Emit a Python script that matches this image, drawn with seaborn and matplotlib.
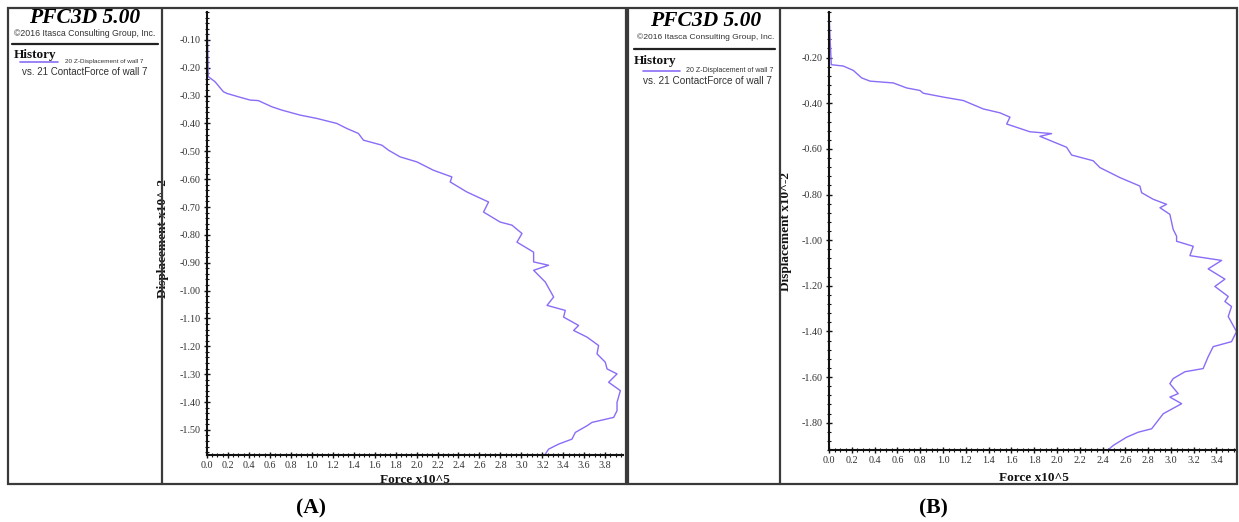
import numpy as np
import pandas as pd
import matplotlib
matplotlib.use("Agg")
import matplotlib.pyplot as plt
import seaborn as sns
from matplotlib.lines import Line2D
from matplotlib.patches import Rectangle
from matplotlib.ticker import MultipleLocator, FormatStrFormatter, FixedLocator

# ---------------- data ----------------
force_a = [0.0, 0.012, 0.076, 0.156, 0.188, 0.315, 0.411, 0.490, 0.618, 0.713, 0.888,
           1.048, 1.239, 1.334, 1.445, 1.493, 1.669, 1.732, 1.843, 2.003, 2.161, 2.337,
           2.321, 2.480, 2.687, 2.639, 2.798, 2.910, 3.006, 2.958, 3.117, 3.117, 3.260,
           3.117, 3.228, 3.308, 3.245, 3.419, 3.403, 3.546, 3.499, 3.627, 3.737, 3.722,
           3.801, 3.818, 3.913, 3.833, 3.945, 3.913, 3.913, 3.881, 3.674, 3.627, 3.515,
           3.483, 3.355, 3.260, 3.228]
disp_a = [-0.005, -0.232, -0.250, -0.286, -0.292, -0.306, -0.316, -0.318, -0.340, -0.352,
          -0.370, -0.382, -0.400, -0.418, -0.436, -0.460, -0.478, -0.496, -0.520, -0.538,
          -0.568, -0.592, -0.610, -0.646, -0.682, -0.718, -0.754, -0.765, -0.795, -0.826,
          -0.862, -0.897, -0.909, -0.927, -0.969, -1.023, -1.053, -1.071, -1.095, -1.125,
          -1.143, -1.167, -1.197, -1.227, -1.257, -1.281, -1.299, -1.329, -1.359, -1.401,
          -1.431, -1.455, -1.473, -1.485, -1.509, -1.533, -1.551, -1.569, -1.587]

force_b = [0.0, 0.02, 0.126, 0.213, 0.287, 0.360, 0.564, 0.682, 0.798, 0.827, 1.003,
           1.178, 1.354, 1.500, 1.588, 1.559, 1.763, 1.953, 1.851, 2.085, 2.129, 2.318,
           2.377, 2.553, 2.728, 2.743, 2.845, 2.962, 2.904, 2.991, 3.020, 3.050, 3.050,
           3.196, 3.167, 3.445, 3.327, 3.474, 3.386, 3.503, 3.474, 3.532, 3.503, 3.576,
           3.532, 3.371, 3.327, 3.283, 3.123, 3.020, 2.991, 3.064, 2.991, 3.094, 2.933,
           2.831, 2.713, 2.611, 2.494, 2.450]
disp_b = [-0.005, -0.231, -0.237, -0.256, -0.289, -0.303, -0.311, -0.333, -0.344, -0.356,
          -0.373, -0.388, -0.425, -0.442, -0.461, -0.491, -0.525, -0.533, -0.545, -0.593,
          -0.627, -0.652, -0.682, -0.726, -0.763, -0.792, -0.821, -0.843, -0.858, -0.887,
          -0.953, -0.983, -1.005, -1.027, -1.068, -1.089, -1.126, -1.171, -1.203, -1.247,
          -1.269, -1.291, -1.335, -1.401, -1.445, -1.467, -1.511, -1.563, -1.577, -1.607,
          -1.629, -1.673, -1.688, -1.717, -1.761, -1.827, -1.842, -1.864, -1.900, -1.919]

yticks_a = [-0.10, -0.20, -0.30, -0.40, -0.50, -0.60, -0.70, -0.80, -0.90, -1.00,
            -1.10, -1.20, -1.30, -1.40, -1.50]
yticks_b = [-0.20, -0.40, -0.60, -0.80, -1.00, -1.20, -1.40, -1.60, -1.80]
xticks_a = [0.0, 0.2, 0.4, 0.6, 0.8, 1.0, 1.2, 1.4, 1.6, 1.8, 2.0, 2.2, 2.4, 2.6, 2.8,
            3.0, 3.2, 3.4, 3.6, 3.8]
xticks_b = [0.0, 0.2, 0.4, 0.6, 0.8, 1.0, 1.2, 1.4, 1.6, 1.8, 2.0, 2.2, 2.4, 2.6, 2.8,
            3.0, 3.2, 3.4]

title_text = "PFC3D 5.00"
copyright_text = "\u00a92016 Itasca Consulting Group, Inc."
history_text = "History"
legend_text = "20 Z-Displacement of wall 7"
vs_text = "vs. 21 ContactForce of wall 7"
xlabel_text = "Force x10^5"
ylabel_text = "Displacement x10^-2"
panel_labels = ["(A)", "(B)"]

# ---------------- styling ----------------
sns.set_theme(style="white")
plt.rcParams['font.family'] = ['Liberation Serif', 'DejaVu Serif']

LINE_COLOR = '#8a6cf6'
FRAME_COLOR = '#3a3a3a'
SANS = ['Liberation Sans', 'DejaVu Sans']
SERIF = ['Liberation Serif', 'DejaVu Serif']
W, H = 1239, 522
fig = plt.figure(figsize=(W / 100, H / 100), dpi=100)
fig.patch.set_facecolor('white')


def fx(x):
    return x / W


def fy(y):
    return 1 - y / H


def frame_rect(x0, y0, x1, y1, lw=1.6):
    fig.add_artist(Rectangle((fx(x0), fy(y1)), fx(x1) - fx(x0), fy(y0) - fy(y1),
                             transform=fig.transFigure, fill=False,
                             edgecolor=FRAME_COLOR, linewidth=lw))


def vline(x, y0, y1, lw=1.6, color=FRAME_COLOR):
    fig.add_artist(Line2D([fx(x), fx(x)], [fy(y0), fy(y1)], transform=fig.transFigure,
                          color=color, linewidth=lw))


def hline(x0, x1, y, lw=1.6, color=FRAME_COLOR):
    fig.add_artist(Line2D([fx(x0), fx(x1)], [fy(y), fy(y)], transform=fig.transFigure,
                          color=color, linewidth=lw))


# panel frames
frame_rect(8, 8, 626, 484)
vline(162, 8, 484)
frame_rect(628, 8, 1237, 484)
vline(780, 8, 484)


def info_box(cx, x_left, y_title, y_copy, copy_size, y_rule, rule_x0, rule_x1, y_hist,
             leg_x0, leg_x1, y_leg, leg_text_x, leg_size, y_vs, vs_x, vs_size):
    fig.text(fx(cx), fy(y_title), title_text, ha='center', va='center', family=SERIF,
             fontsize=15.5, fontweight='bold', fontstyle='italic', color='#000000')
    fig.text(fx(cx), fy(y_copy), copyright_text, ha='center', va='center',
             fontsize=copy_size, family=SANS, color='#333333')
    hline(rule_x0, rule_x1, y_rule, lw=1.6, color='#222222')
    fig.text(fx(x_left), fy(y_hist), history_text, ha='left', va='center', family=SERIF,
             fontsize=9.5, fontweight='bold', color='#111111')
    hline(leg_x0, leg_x1, y_leg, lw=1.2, color=LINE_COLOR)
    fig.text(fx(leg_text_x), fy(y_leg - 1), legend_text, ha='left', va='center',
             fontsize=leg_size, family=SANS, color='#333333')
    fig.text(fx(vs_x), fy(y_vs), vs_text, ha='left', va='center',
             fontsize=vs_size, family=SANS, color='#333333')


info_box(85, 14, 18, 33, 6.3, 44, 12, 158, 55, 20, 58, 62, 65, 4.6, 72, 22, 7.0)
info_box(706, 634, 21, 37, 6.1, 49, 634, 775, 61, 643, 680, 71, 686, 5.0, 81, 643, 7.2)


def make_axes(rect_px, force, disp, xlim, ylim, xticks, yticks, yminor,
              ylab_xy, xlab_xy):
    x0, y0, x1, y1 = rect_px
    ax = fig.add_axes([fx(x0), fy(y1), fx(x1) - fx(x0), fy(y0) - fy(y1)])
    df = pd.DataFrame({'Force': force, 'Displacement': disp})
    sns.lineplot(data=df, x='Force', y='Displacement', sort=False, estimator=None,
                 color=LINE_COLOR, linewidth=1.0, ax=ax, legend=False)
    ax.set_xlim(*xlim)
    ax.set_ylim(*ylim)
    ax.set_facecolor('white')
    for s in ['top', 'right']:
        ax.spines[s].set_visible(False)
    for s in ['left', 'bottom']:
        ax.spines[s].set_visible(True)
        ax.spines[s].set_color('#111111')
        ax.spines[s].set_linewidth(1.5)
    ax.xaxis.set_major_locator(FixedLocator(xticks))
    ax.yaxis.set_major_locator(FixedLocator(yticks))
    ax.xaxis.set_major_formatter(FormatStrFormatter('%.1f'))
    ax.yaxis.set_major_formatter(FormatStrFormatter('%.2f'))
    ax.xaxis.set_minor_locator(MultipleLocator(0.05))
    ax.yaxis.set_minor_locator(MultipleLocator(yminor))
    ax.tick_params(which='major', direction='inout', length=5, width=1.0,
                   color='#111111', labelsize=7.3, labelcolor='#333333', pad=2,
                   bottom=True, left=True)
    ax.tick_params(which='minor', direction='inout', length=2.5, width=0.8,
                   color='#111111', bottom=True, left=True)
    ax.set_xlabel(xlabel_text, fontsize=9.5, fontweight='bold', color='#111111',
                  family=SERIF)
    ax.set_ylabel(ylabel_text, fontsize=9.5, fontweight='bold', color='#111111',
                  family=SERIF)
    ax.yaxis.set_label_coords(*ylab_xy)
    ax.xaxis.set_label_coords(*xlab_xy)
    ax.grid(False)
    return ax


make_axes((207, 12, 623, 455), force_a, disp_a, (0, 3.97), (-1.59, 0.0),
          xticks_a, yticks_a, 0.02, (-0.092, 0.488), (0.5, -0.043))
make_axes((829, 12, 1237, 450), force_b, disp_b, (0, 3.58), (-1.92, 0.0),
          xticks_b, yticks_b, 0.04, (-0.09, 0.498), (0.502, -0.05))

fig.text(fx(311), fy(508), panel_labels[0], ha='center', va='center', fontsize=15.5,
         fontweight='bold', color='#000000', family=SERIF)
fig.text(fx(933), fy(508), panel_labels[1], ha='center', va='center', fontsize=15.5,
         fontweight='bold', color='#000000', family=SERIF)

fig.savefig('out.png', dpi=100, facecolor='white')
